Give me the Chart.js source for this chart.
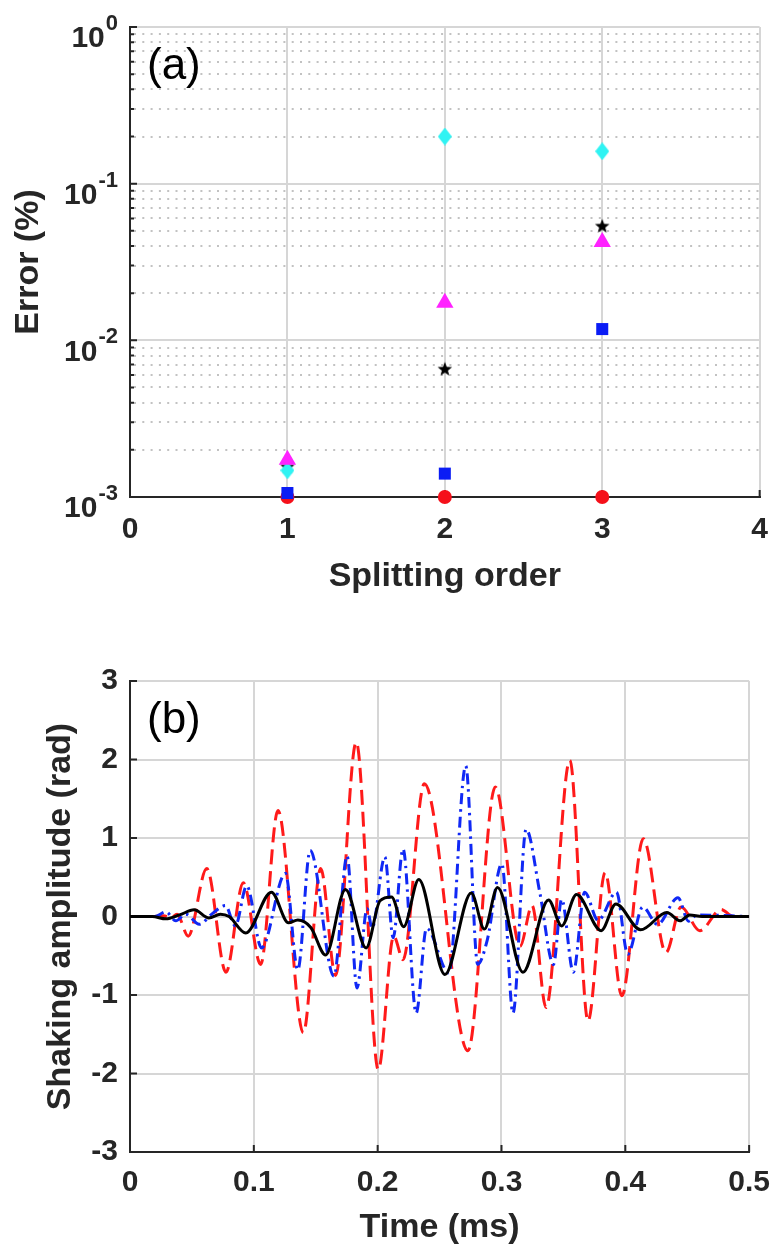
<!DOCTYPE html>
<html>
<head>
<meta charset="utf-8">
<script src="https://cdn.jsdelivr.net/npm/chart.js@4.4.1/dist/chart.umd.min.js"></script>
<style>
  html, body { margin: 0; padding: 0; background: #fff; }
  #panelA { position: absolute; left: 0; top: 0; width: 783px; height: 610px; }
  #panelB { position: absolute; left: 0; top: 610px; width: 783px; height: 635px; }
</style>
</head>
<body>
<div id="panelA"><canvas id="errChart"></canvas></div>
<div id="panelB"><canvas id="ampChart"></canvas></div>
<script>
// ---- panel (a): error vs splitting order ----
const splitOrder = [1, 2, 3];
const errCircle   = [0.001, 0.001, 0.001];
const errSquare   = [0.00106, 0.00141, 0.0118];
const errStar     = [0.00157, 0.0066, 0.054];
const errDiamond  = [0.00148, 0.20, 0.161];
const errTriangle = [0.00173, 0.0174, 0.0424];
const orderTicks = [0, 1, 2, 3, 4];
const errDecades = [1e-3, 1e-2, 1e-1, 1];
const errExponents = ['-3', '-2', '-1', '0'];

// ---- panel (b): shaking amplitude vs time ----
const redTime = [0, 0.020, 0.027, 0.033, 0.038, 0.047, 0.062, 0.0775, 0.0915, 0.1055,
  0.1195, 0.140, 0.154, 0.166, 0.1827, 0.2005, 0.213, 0.2205, 0.2377, 0.2729,
  0.295, 0.315, 0.3247, 0.336, 0.3552, 0.3699, 0.3837, 0.3972, 0.4145, 0.4328,
  0.445, 0.4602, 0.4774, 0.487, 0.5];
const redAmp = [0, 0, 0.01, -0.02, 0.03, -0.25, 0.61, -0.71, 0.43, -0.61,
  1.35, -1.48, 0.61, -0.75, 2.22, -1.95, -0.25, -0.55, 1.69, -1.71,
  1.65, -0.38, 0.14, -1.16, 1.99, -1.33, 0.56, -1.01, 0.99, -0.46,
  0.12, -0.18, 0.09, 0, 0];

const blueTime = [0, 0.020, 0.029, 0.037, 0.045, 0.056, 0.066, 0.077, 0.085, 0.0943,
  0.1062, 0.1255, 0.1355, 0.1455, 0.1647, 0.1753, 0.1833, 0.1915, 0.1955, 0.2058,
  0.2125, 0.2205, 0.2311, 0.2395, 0.2575, 0.2711, 0.2808, 0.2885, 0.3003, 0.3093,
  0.3199, 0.331, 0.342, 0.3486, 0.358, 0.3672, 0.378, 0.3928, 0.402, 0.4141,
  0.426, 0.4425, 0.451, 0.458, 0.5];
const blueAmp = [0, 0, 0.06, -0.055, 0.03, -0.10, 0.03, 0.14, -0.12, 0.39,
  -0.40, 0.55, -0.68, 0.84, -0.76, 0.77, -0.91, 0.10, -0.15, 0.76,
  -0.27, 0.86, -1.23, -0.15, -0.72, 1.92, -0.61, -0.30, 0.67, -1.23,
  1.11, 0.30, -0.61, 0.22, -0.71, 0.31, -0.05, 0.31, -0.48, 0.12,
  -0.10, 0.24, -0.06, 0.02, 0];

const blackTime = [0, 0.018, 0.029, 0.040, 0.0518, 0.0637, 0.073, 0.080, 0.0935, 0.1142,
  0.128, 0.1355, 0.146, 0.158, 0.174, 0.1907, 0.2019, 0.2112, 0.221, 0.2332,
  0.2543, 0.2756, 0.2862, 0.2968, 0.3173, 0.338, 0.3486, 0.3606, 0.3805, 0.3924,
  0.4123, 0.4336, 0.4442, 0.452, 0.462, 0.5];
const blackAmp = [0, 0, -0.03, 0.02, 0.085, -0.02, 0.03, 0.0, -0.21, 0.31,
  -0.08, -0.045, -0.14, -0.49, 0.345, -0.40, 0.20, 0.25, -0.13, 0.47,
  -0.74, 0.30, -0.16, 0.37, -0.71, 0.21, -0.12, 0.28, -0.18, 0.16,
  -0.17, 0.05, -0.055, 0.02, 0, 0];

const ampTicks = [-3, -2, -1, 0, 1, 2, 3];
const timeTicks = [0, 0.1, 0.2, 0.3, 0.4, 0.5];

const FONT = "'Liberation Sans', Arial, Helvetica, sans-serif";
const INK = '#262626';
const GRID = '#d6d6d6';
const tickFont = { family: FONT, size: 30, weight: 'bold' };
const titleFont = { family: FONT, size: 34, weight: 'bold', lineHeight: 1 };

// small canvases used as marker shapes
function makeMarker(w, h, draw) {
  const c = document.createElement('canvas');
  c.width = w;
  c.height = h;
  draw(c.getContext('2d'), w, h);
  return c;
}
const starMarker = makeMarker(16, 16, (g, w, h) => {
  g.fillStyle = '#000';
  g.beginPath();
  for (let i = 0; i < 10; i++) {
    const r = i % 2 ? 3.2 : 7.6;
    const a = -Math.PI / 2 + i * Math.PI / 5;
    g.lineTo(w / 2 + r * Math.cos(a), h / 2 + 0.9 + r * Math.sin(a));
  }
  g.closePath();
  g.fill();
});
const diamondMarker = makeMarker(14, 18, (g, w, h) => {
  g.fillStyle = '#2ff3f3';
  g.beginPath();
  g.moveTo(w / 2, 0);
  g.lineTo(w, h / 2);
  g.lineTo(w / 2, h);
  g.lineTo(0, h / 2);
  g.closePath();
  g.fill();
});

function fixedTicks(values) {
  return scale => { scale.ticks = values.map(v => ({ value: v })); };
}

// MATLAB style tick marks pointing into the plot
function drawInwardTicks(chart, xs, ys, len) {
  const { ctx, chartArea: a } = chart;
  ctx.save();
  ctx.strokeStyle = INK;
  ctx.lineWidth = 2;
  ctx.beginPath();
  xs.forEach(v => {
    const px = chart.scales.x.getPixelForValue(v);
    ctx.moveTo(px, a.bottom);
    ctx.lineTo(px, a.bottom - len);
  });
  ys.forEach(([v, l]) => {
    const py = chart.scales.y.getPixelForValue(v);
    ctx.moveTo(a.left, py);
    ctx.lineTo(a.left + l, py);
  });
  ctx.stroke();
  ctx.restore();
}

function drawPanelTag(chart, text) {
  const { ctx, chartArea: a } = chart;
  ctx.save();
  ctx.fillStyle = '#000';
  ctx.font = `44px ${FONT}`;
  ctx.textAlign = 'left';
  ctx.textBaseline = 'middle';
  ctx.fillText(text, a.left + 17, a.top + 40);
  ctx.restore();
}

const minors = [];
errDecades.slice(0, -1).forEach(d => {
  for (let m = 2; m <= 9; m++) minors.push(d * m);
});

const errDecor = {
  id: 'errDecor',
  beforeDatasetsDraw(chart) {
    const { ctx, chartArea: a } = chart;
    const y = chart.scales.y;
    // dotted minor grid
    ctx.save();
    ctx.strokeStyle = '#c2c2c2';
    ctx.lineWidth = 2;
    ctx.setLineDash([2, 6.3]);
    ctx.beginPath();
    minors.forEach(v => {
      const py = Math.round(y.getPixelForValue(v));
      ctx.moveTo(a.left + 4, py);
      ctx.lineTo(a.right, py);
    });
    ctx.stroke();
    ctx.restore();
    drawInwardTicks(chart, orderTicks.slice(1),
      errDecades.map(v => [v, 7]).concat(minors.map(v => [v, 4])), 7);
  },
  afterDraw(chart) {
    const { ctx } = chart;
    const y = chart.scales.y;
    ctx.save();
    ctx.fillStyle = INK;
    ctx.textAlign = 'right';
    ctx.textBaseline = 'middle';
    errDecades.forEach((v, i) => {
      const py = y.getPixelForValue(v);
      ctx.font = `bold 22px ${FONT}`;
      const supW = ctx.measureText(errExponents[i]).width;
      ctx.fillText(errExponents[i], 118, py - 3);
      ctx.font = `bold 30px ${FONT}`;
      ctx.fillText('10', 118 - supW - 1, py + 12);
    });
    ctx.restore();
    drawPanelTag(chart, '(a)');
  }
};

const ampDecor = {
  id: 'ampDecor',
  beforeDatasetsDraw(chart) {
    drawInwardTicks(chart, timeTicks.slice(1), ampTicks.map(v => [v, 7]), 7);
  },
  afterDraw(chart) {
    drawPanelTag(chart, '(b)');
  }
};

function pts(xs, ys) {
  return xs.map((x, i) => ({ x, y: ys[i] }));
}

function marker(label, ys, style, radius, color) {
  return {
    label,
    data: pts(splitOrder, ys),
    pointStyle: style,
    pointRadius: radius,
    pointBackgroundColor: color,
    pointBorderWidth: 0,
    clip: false
  };
}

new Chart(document.getElementById('errChart'), {
  type: 'scatter',
  data: {
    // first dataset is painted last (on top)
    datasets: [
      marker('triangle', errTriangle, 'triangle', 10, '#ff22ff'),
      marker('diamond', errDiamond, diamondMarker, 9, '#2ff3f3'),
      marker('star', errStar, starMarker, 8, '#000'),
      marker('square', errSquare, 'rect', 8.5, '#0a1cf5'),
      marker('circle', errCircle, 'circle', 7, '#f5101a')
    ]
  },
  options: {
    responsive: true,
    maintainAspectRatio: false,
    animation: false,
    events: [],
    layout: { padding: { top: 27, right: 23, left: 0, bottom: 0 } },
    plugins: { legend: { display: false }, tooltip: { enabled: false } },
    scales: {
      x: {
        type: 'linear', min: 0, max: 4,
        afterBuildTicks: fixedTicks(orderTicks),
        afterFit: s => { s.height = 113; },
        ticks: { font: tickFont, color: INK, padding: 15 },
        grid: { color: GRID, lineWidth: 2, drawTicks: false },
        border: { color: INK, width: 2 },
        title: { display: true, text: 'Splitting order', font: titleFont, color: INK, padding: { top: 0, bottom: 16 } }
      },
      y: {
        type: 'logarithmic', min: 1e-3, max: 1,
        afterBuildTicks: fixedTicks(errDecades),
        afterFit: s => { s.width = 130; },
        ticks: { display: false },
        grid: { color: GRID, lineWidth: 2, drawTicks: false },
        border: { color: INK, width: 2 },
        title: { display: true, text: 'Error (%)', font: titleFont, color: INK, padding: { top: 12, bottom: 0 } }
      }
    }
  },
  plugins: [errDecor]
});

function trace(label, xs, ys, color, dash) {
  return {
    label,
    data: pts(xs, ys),
    borderColor: color,
    borderWidth: 3,
    borderDash: dash,
    pointRadius: 0,
    cubicInterpolationMode: 'monotone',
    fill: false
  };
}

new Chart(document.getElementById('ampChart'), {
  type: 'line',
  data: {
    datasets: [
      trace('solid', blackTime, blackAmp, '#000000', []),
      trace('dash-dot', blueTime, blueAmp, '#1028f5', [11, 5, 2.5, 5]),
      trace('dashed', redTime, redAmp, '#ff1a1a', [15, 7])
    ]
  },
  options: {
    responsive: true,
    maintainAspectRatio: false,
    animation: false,
    events: [],
    layout: { padding: { top: 71, right: 26, left: 0, bottom: 0 } },
    plugins: { legend: { display: false }, tooltip: { enabled: false } },
    scales: {
      x: {
        type: 'linear', min: 0, max: 0.5,
        afterBuildTicks: fixedTicks(timeTicks),
        afterFit: s => { s.height = 93; },
        ticks: { font: tickFont, color: INK, padding: 13, callback: v => String(+v.toFixed(1)) },
        grid: { color: GRID, lineWidth: 2, drawTicks: false },
        border: { color: INK, width: 2 },
        title: { display: true, text: 'Time (ms)', font: titleFont, color: INK, padding: { top: 0, bottom: 0 } }
      },
      y: {
        type: 'linear', min: -3, max: 3,
        afterBuildTicks: fixedTicks(ampTicks),
        afterFit: s => { s.width = 130; },
        ticks: { font: tickFont, color: INK, padding: 12 },
        grid: { color: GRID, lineWidth: 2, drawTicks: false },
        border: { color: INK, width: 2 },
        title: { display: true, text: 'Shaking amplitude (rad)', font: titleFont, color: INK, padding: { top: 44, bottom: 0 } }
      }
    }
  },
  plugins: [ampDecor]
});
</script>
</body>
</html>
